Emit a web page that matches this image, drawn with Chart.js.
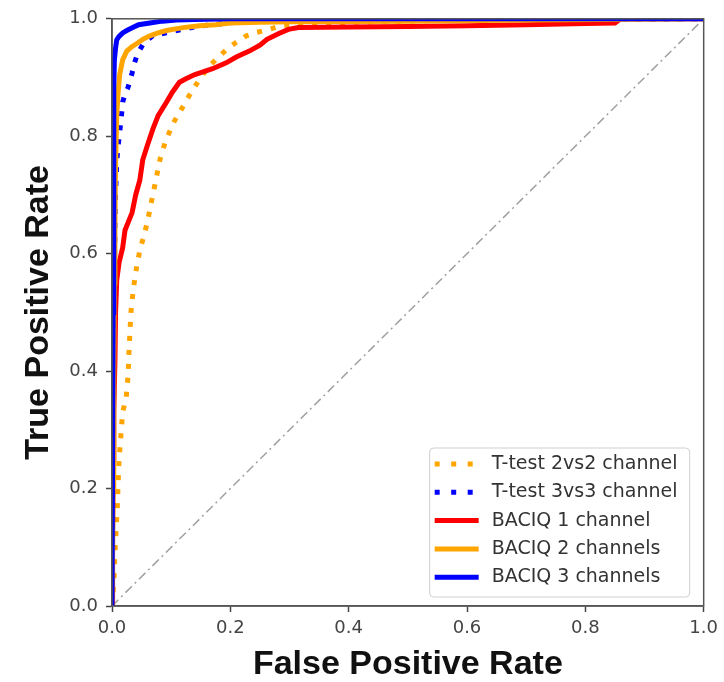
<!DOCTYPE html>
<html><head>
<meta charset="utf-8">
<script src="https://cdn.jsdelivr.net/npm/chart.js@4.4.1/dist/chart.umd.min.js"></script>
<style>
  body { margin: 0; background: #fff; }
  canvas { display: block; }
</style>
</head>
<body>
<canvas id="roc" width="724" height="682"></canvas>
<script>

  // ROC curves
  var ttest22X = [0, 0.003, 0.005, 0.007, 0.009, 0.010, 0.012, 0.015, 0.018, 0.024, 0.027, 0.029, 0.032, 0.036, 0.042, 0.048, 0.054, 0.060, 0.066, 0.072, 0.081, 0.090, 0.097, 0.105, 0.114, 0.124, 0.134, 0.150, 0.165, 0.180, 0.193, 0.210, 0.227, 0.245, 0.266, 0.285, 0.32, 0.40, 0.50, 0.60, 0.80, 1.0];
  var ttest22Y = [0, 0.04, 0.09, 0.13, 0.17, 0.20, 0.25, 0.29, 0.33, 0.355, 0.39, 0.44, 0.50, 0.54, 0.58, 0.61, 0.63, 0.655, 0.685, 0.715, 0.76, 0.79, 0.807, 0.825, 0.84, 0.858, 0.875, 0.90, 0.92, 0.935, 0.947, 0.96, 0.971, 0.977, 0.982, 0.988, 0.992, 0.994, 0.996, 0.998, 0.999, 1.0];

  var ttest33X = [0, 0.001, 0.002, 0.003, 0.004, 0.005, 0.006, 0.008, 0.010, 0.013, 0.016, 0.018, 0.022, 0.027, 0.031, 0.034, 0.038, 0.042, 0.047, 0.052, 0.060, 0.069, 0.080, 0.092, 0.105, 0.12, 0.14, 0.16, 0.19, 0.22, 0.30, 0.50, 1.0];
  var ttest33Y = [0, 0.1, 0.25, 0.4, 0.55, 0.65, 0.70, 0.756, 0.78, 0.807, 0.835, 0.858, 0.872, 0.883, 0.897, 0.908, 0.925, 0.937, 0.947, 0.956, 0.964, 0.971, 0.974, 0.976, 0.979, 0.982, 0.986, 0.989, 0.992, 0.995, 0.997, 0.999, 1.0];

  var baciq1X = [0, 0.001, 0.002, 0.003, 0.005, 0.006, 0.008, 0.012, 0.018, 0.022, 0.028, 0.034, 0.040, 0.047, 0.052, 0.060, 0.069, 0.078, 0.092, 0.102, 0.114, 0.125, 0.140, 0.155, 0.170, 0.193, 0.210, 0.232, 0.250, 0.262, 0.282, 0.298, 0.315, 0.40, 0.50, 0.60, 0.70, 0.80, 0.85, 0.86, 1.0];
  var baciq1Y = [0, 0.12, 0.25, 0.33, 0.42, 0.50, 0.555, 0.585, 0.61, 0.64, 0.655, 0.67, 0.70, 0.725, 0.76, 0.785, 0.812, 0.835, 0.858, 0.875, 0.892, 0.898, 0.905, 0.91, 0.915, 0.925, 0.935, 0.945, 0.955, 0.965, 0.975, 0.982, 0.985, 0.986, 0.987, 0.988, 0.99, 0.992, 0.993, 1.0, 1.0];

  var baciq2X = [0, 0.002, 0.003, 0.004, 0.005, 0.006, 0.008, 0.010, 0.013, 0.018, 0.025, 0.033, 0.042, 0.052, 0.064, 0.078, 0.092, 0.12, 0.148, 0.175, 0.20, 0.25, 0.30, 0.50, 0.70, 1.0];
  var baciq2Y = [0, 0.2, 0.4, 0.55, 0.65, 0.75, 0.836, 0.87, 0.905, 0.93, 0.945, 0.952, 0.958, 0.965, 0.971, 0.976, 0.98, 0.985, 0.988, 0.99, 0.993, 0.994, 0.995, 0.996, 0.998, 1.0];

  var baciq3X = [0, 0.002, 0.003, 0.004, 0.006, 0.008, 0.012, 0.018, 0.025, 0.035, 0.045, 0.064, 0.085, 0.109, 0.14, 0.20, 1.0];
  var baciq3Y = [0, 0.5, 0.88, 0.93, 0.95, 0.964, 0.97, 0.976, 0.98, 0.985, 0.99, 0.993, 0.996, 0.998, 0.999, 1.0, 1.0];

  var chanceX = [0, 1];
  var chanceY = [0, 1];

  var tickValues = [0, 0.2, 0.4, 0.6, 0.8, 1.0];

  function pts(xs, ys) {
    var out = [];
    for (var i = 0; i < xs.length; i++) out.push({x: xs[i], y: ys[i]});
    return out;
  }

  // draws the box round the axes, like matplotlib spines
  var frame = {
    id: 'frame',
    afterDatasetsDraw: function(chart) {
      var a = chart.chartArea, ctx = chart.ctx;
      ctx.save();
      ctx.strokeStyle = '#555';
      ctx.lineWidth = 1.5;
      ctx.strokeRect(a.left, a.top, a.right - a.left, a.bottom - a.top);
      ctx.restore();
    }
  };

  // legend inside the plot, lower right
  var innerLegend = {
    id: 'innerLegend',
    afterDraw: function(chart) {
      var a = chart.chartArea, ctx = chart.ctx;
      var sets = chart.data.datasets.filter(function(d) { return d.label; });
      var w = 260, h = 149;
      var x0 = a.right - 14 - w, y0 = a.bottom - 9 - h;
      ctx.save();
      ctx.fillStyle = 'rgba(255,255,255,0.9)';
      ctx.strokeStyle = '#d0d0d0';
      ctx.lineWidth = 1;
      ctx.beginPath();
      ctx.roundRect(x0, y0, w, h, 4);
      ctx.fill();
      ctx.stroke();
      ctx.font = '19px "DejaVu Sans"';
      ctx.textBaseline = 'middle';
      sets.forEach(function(d, i) {
        var cy = y0 + 16 + i * 28.3;
        ctx.strokeStyle = d.borderColor;
        ctx.lineWidth = 5;
        ctx.lineCap = 'butt';
        ctx.setLineDash(d.borderDash && d.borderDash.length ? [5, 11.5] : []);
        ctx.beginPath();
        ctx.moveTo(x0 + 5, cy);
        ctx.lineTo(x0 + 49, cy);
        ctx.stroke();
        ctx.setLineDash([]);
        ctx.fillStyle = '#333';
        ctx.fillText(d.label, x0 + 62, cy);
      });
      ctx.restore();
    }
  };

  var tickFont = {family: 'DejaVu Sans', size: 18};

  new Chart(document.getElementById('roc'), {
    type: 'line',
    data: {
      datasets: [
        { label: 'T-test 2vs2 channel', data: pts(ttest22X, ttest22Y), borderColor: '#ffa500', borderWidth: 5, borderDash: [5, 9], order: 4 },
        { label: 'T-test 3vs3 channel', data: pts(ttest33X, ttest33Y), borderColor: '#0000ff', borderWidth: 5, borderDash: [5, 9], order: 3 },
        { label: 'BACIQ 1 channel', data: pts(baciq1X, baciq1Y), borderColor: '#ff0000', borderWidth: 5, order: 2 },
        { label: 'BACIQ 2 channels', data: pts(baciq2X, baciq2Y), borderColor: '#ffa500', borderWidth: 5, order: 1 },
        { label: 'BACIQ 3 channels', data: pts(baciq3X, baciq3Y), borderColor: '#0000ff', borderWidth: 5, order: 0 },
        { label: '', data: pts(chanceX, chanceY), borderColor: '#a0a0a0', borderWidth: 1.5, borderDash: [9, 4, 2, 4], order: 5 }
      ]
    },
    options: {
      responsive: false,
      animation: false,
      layout: { padding: { top: 16, right: 17, left: 0, bottom: 0 } },
      elements: {
        point: { radius: 0, hoverRadius: 0 },
        line: { tension: 0, fill: false }
      },
      datasets: { line: { clip: 0 } },
      plugins: { legend: { display: false }, tooltip: { enabled: false } },
      scales: {
        x: {
          type: 'linear', min: 0, max: 1,
          afterFit: function(s) { s.height = 76; },
          afterBuildTicks: function(s) { s.ticks = tickValues.map(function(v) { return {value: v}; }); },
          ticks: { font: tickFont, color: '#444', padding: 6, callback: function(v) { return v.toFixed(1); } },
          grid: { drawOnChartArea: false, tickLength: 6, tickColor: '#444', tickWidth: 1.5 },
          border: { color: '#555', width: 1.5 },
          title: { display: true, text: 'False Positive Rate', color: '#111',
                   font: { family: '"Liberation Sans"', weight: 'bold', size: 34, lineHeight: 1.0 },
                   padding: { top: 0, bottom: 0 } }
        },
        y: {
          type: 'linear', min: 0, max: 1,
          afterFit: function(s) { s.width = 112; },
          afterBuildTicks: function(s) { s.ticks = tickValues.map(function(v) { return {value: v}; }); },
          ticks: { font: tickFont, color: '#444', padding: 8, callback: function(v) { return v.toFixed(1); } },
          grid: { drawOnChartArea: false, tickLength: 6, tickColor: '#444', tickWidth: 1.5 },
          border: { color: '#555', width: 1.5 },
          title: { display: true, text: 'True Positive Rate', color: '#111',
                   font: { family: '"Liberation Sans"', weight: 'bold', size: 34, lineHeight: 1.2 },
                   padding: { top: 18, bottom: 0 } }
        }
      }
    },
    plugins: [frame, innerLegend]
  });
</script>
</body>
</html>
